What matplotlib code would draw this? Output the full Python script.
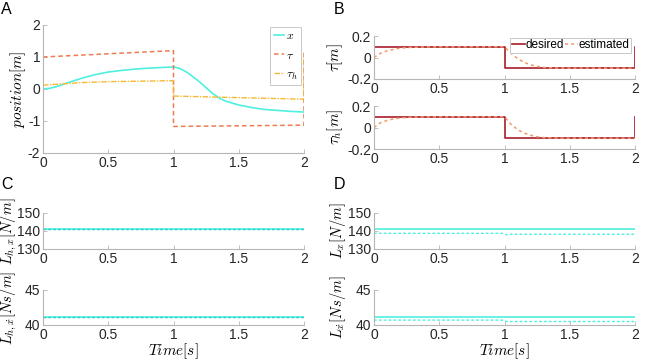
import matplotlib
matplotlib.use("Agg")
import matplotlib.pyplot as plt
import numpy as np

plt.rcParams['font.family'] = ['Liberation Sans', 'DejaVu Sans']
plt.rcParams['mathtext.fontset'] = 'cm'
plt.rcParams['axes.unicode_minus'] = False

# ---------------- data ----------------
# Panel A
t_x = [0, 0.05, 0.1, 0.15, 0.2, 0.3, 0.4, 0.5, 0.6, 0.7, 0.8, 0.9, 1.0,
       1.05, 1.1, 1.15, 1.2, 1.25, 1.3, 1.35, 1.4, 1.5, 1.6, 1.7, 1.8, 1.9, 2.0]
x_pos = [0.0, 0.02, 0.07, 0.14, 0.21, 0.34, 0.45, 0.53, 0.58, 0.62, 0.65, 0.67, 0.69,
         0.64, 0.53, 0.38, 0.22, 0.04, -0.14, -0.28, -0.38, -0.50, -0.58, -0.64, -0.67, -0.70, -0.72]
t_tau = [0, 1, 1, 2, 2]
tau_pos = [1.0, 1.2, -1.17, -1.13, 1.15]
t_tauh = [0, 0.3, 0.5, 1, 1, 2, 2]
tauh_pos = [0.12, 0.2, 0.23, 0.26, -0.22, -0.32, 1.1]

# Panel B
t_des = [0, 1, 1, 2, 2]
tau_des = [0.1, 0.1, -0.1, -0.1, 0.1]
tauh_des = [0.1, 0.1, -0.1, -0.1, 0.1]
t_est = [0, 0.05, 0.1, 0.15, 0.2, 0.25, 0.3, 0.4, 1.0, 1.05, 1.1, 1.15, 1.2, 1.25, 1.3, 1.4, 2.0]
tau_est = [0.0, 0.04, 0.062, 0.076, 0.086, 0.092, 0.095, 0.099, 0.1,
           0.04, -0.01, -0.045, -0.068, -0.083, -0.092, -0.099, -0.1]
tauh_est = [0.0, 0.045, 0.066, 0.08, 0.088, 0.093, 0.096, 0.099, 0.1,
            0.03, -0.02, -0.052, -0.072, -0.086, -0.094, -0.099, -0.1]

# Panel C
t_gain = [0, 2]
Lhx_true = [141.1, 141.1]
Lhx_est = [141.1, 141.1]
Lhxd_true = [41.2, 41.2]
Lhxd_est = [41.2, 41.2]

# Panel D
t_gd = [0, 0.98, 1.0, 1.02, 1.05, 2.0]
Lx_true = [141.1, 141.1, 141.1, 141.1, 141.1, 141.1]
Lx_est = [138.7, 138.7, 138.4, 137.8, 138.2, 138.2]
Lxd_true = [41.2, 41.2, 41.2, 41.2, 41.2, 41.2]
Lxd_est = [40.7, 40.7, 40.6, 40.5, 40.5, 40.5]

xticks = [0, 0.5, 1, 1.5, 2]
xticklabels = ['0', '0.5', '1', '1.5', '2']

# ---------------- style ----------------
CYAN = '#4ff0df'
RED_D = '#ee7a52'
YEL = '#f2ba35'
DES = '#a81d2a'
EST = '#f39a6c'
SPINE = '#b5b5b5'
TXT = '#262626'

W, H = 667, 361
fig = plt.figure(figsize=(W/100, H/100), dpi=100)

def ax_at(l, r, top, bot):
    return fig.add_axes([l/W, 1-bot/H, (r-l)/W, (bot-top)/H])

def style(ax, ylim, yticks, yticklabels):
    ax.set_xlim(0, 2)
    ax.set_ylim(*ylim)
    ax.set_xticks(xticks)
    ax.set_xticklabels(xticklabels)
    ax.set_yticks(yticks)
    ax.set_yticklabels(yticklabels)
    for s in ['top', 'right']:
        ax.spines[s].set_visible(False)
    for s in ['left', 'bottom']:
        ax.spines[s].set_color(SPINE)
        ax.spines[s].set_linewidth(0.8)
    ax.tick_params(direction='in', length=3, width=0.6, color=SPINE,
                   labelsize=10, labelcolor=TXT, pad=2)
    ax.patch.set_alpha(0)

XL, XR = 43, 304
BL, BR = 374, 635
AXW = XR - XL

def ylab(ax, text, right_px, left_px, fs=11):
    ax.set_ylabel(text, fontsize=fs)
    ax.yaxis.set_label_coords((right_px - left_px) / AXW, 0.5)

# A
axA = ax_at(XL, XR, 25, 153)
axA.plot(t_x, x_pos, color=CYAN, lw=1.2, label=r'$x$')
axA.plot(t_tau, tau_pos, color=RED_D, lw=1.1, ls=(0, (3, 2)), label=r'$\tau$')
axA.plot(t_tauh, tauh_pos, color=YEL, lw=1.0, ls=(0, (4, 1, 1, 1)), label=r'$\tau_h$')
style(axA, (-2, 2), [-2, -1, 0, 1, 2], ['-2', '-1', '0', '1', '2'])
ylab(axA, r'$position[m]$', 28, XL)
lgA = axA.legend(loc='upper right', bbox_to_anchor=(0.99, 0.985), fontsize=8.5,
                 handlelength=0.9, handletextpad=0.15, borderpad=0.3,
                 labelspacing=0.6, fancybox=False, framealpha=1, borderaxespad=0.0)
lgA.get_frame().set_edgecolor('#c8c8c8')
lgA.get_frame().set_linewidth(0.7)

# B top
axB1 = ax_at(BL, BR, 36, 79)
axB1.plot(t_des, tau_des, color=DES, lw=1.2, label='desired')
axB1.plot(t_est, tau_est, color=EST, lw=1.1, ls=(0, (2, 2)), label='estimated')
style(axB1, (-0.2, 0.2), [-0.2, 0, 0.2], ['-0.2', '0', '0.2'])
ylab(axB1, r'$\tau[m]$', 345, BL)
lgB = axB1.legend(loc='upper right', bbox_to_anchor=(0.985, 0.96), ncol=2, fontsize=8.5,
                  handlelength=1.1, handletextpad=0.05, columnspacing=0.1, borderpad=0.15,
                  fancybox=False, framealpha=1, borderaxespad=0.0)
lgB.get_frame().set_edgecolor('#c8c8c8')
lgB.get_frame().set_linewidth(0.7)

# B bottom
axB2 = ax_at(BL, BR, 106, 149)
axB2.plot(t_des, tauh_des, color=DES, lw=1.2)
axB2.plot(t_est, tauh_est, color=EST, lw=1.1, ls=(0, (2, 2)))
style(axB2, (-0.2, 0.2), [-0.2, 0, 0.2], ['-0.2', '0', '0.2'])
ylab(axB2, r'$\tau_h[m]$', 345, BL)

# C top
axC1 = ax_at(XL, XR, 213, 249)
axC1.plot(t_gain, Lhx_true, color=CYAN, lw=1.2)
axC1.plot(t_gain, Lhx_est, color='#2ad0d0', lw=1.0, ls=(0, (2, 1.5)))
style(axC1, (130, 150), [130, 140, 150], ['130', '140', '150'])
ylab(axC1, r'$L_{h,x}[N/m]$', 19, XL, 10.5)

# C bottom
axC2 = ax_at(XL, XR, 290, 325)
axC2.plot(t_gain, Lhxd_true, color=CYAN, lw=1.2)
axC2.plot(t_gain, Lhxd_est, color='#2ad0d0', lw=1.0, ls=(0, (2, 1.5)))
style(axC2, (40, 45), [40, 45], ['40', '45'])
ylab(axC2, r'$L_{h,\dot{x}}[Ns/m]$', 19, XL, 10.5)
axC2.set_xlabel(r'$Time[s]$', fontsize=11, labelpad=0)

# D top
axD1 = ax_at(BL, BR, 213, 249)
axD1.plot(t_gd, Lx_true, color=CYAN, lw=1.2)
axD1.plot(t_gd, Lx_est, color=CYAN, lw=1.0, ls=(0, (2, 1.5)))
style(axD1, (130, 150), [130, 140, 150], ['130', '140', '150'])
ylab(axD1, r'$L_x[N/m]$', 348, BL, 10.5)

# D bottom
axD2 = ax_at(BL, BR, 290, 325)
axD2.plot(t_gd, Lxd_true, color=CYAN, lw=1.2)
axD2.plot(t_gd, Lxd_est, color=CYAN, lw=1.0, ls=(0, (2, 1.5)))
style(axD2, (40, 45), [40, 45], ['40', '45'])
ylab(axD2, r'$L_{\dot{x}}[Ns/m]$', 348, BL, 10.5)
axD2.set_xlabel(r'$Time[s]$', fontsize=11, labelpad=0)

# panel letters
for lab, (px, py) in {'A': (1, 2), 'B': (334, 2), 'C': (1, 177), 'D': (334, 177)}.items():
    fig.text(px/W, 1-py/H, lab, fontsize=11.5, color='black', ha='left', va='top')

fig.savefig('out.png', dpi=100)
